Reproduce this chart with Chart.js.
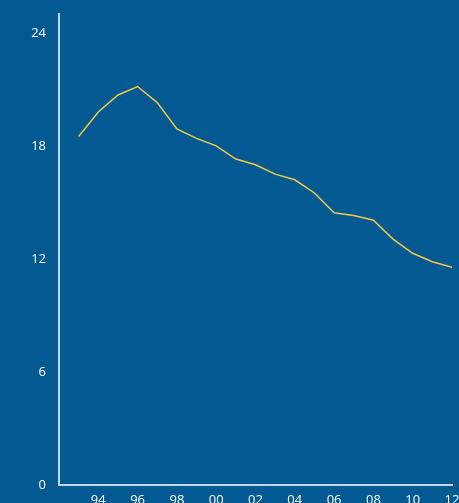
<!DOCTYPE html>
<html>
<head>
<meta charset="utf-8">
<script src="https://cdn.jsdelivr.net/npm/chart.js@4/dist/chart.umd.min.js"></script>
<style>
  html, body { margin: 0; padding: 0; background: #035a93; overflow: hidden; }
  #wrap { position: absolute; left: 0; top: 0; width: 470px; height: 515px; }
</style>
</head>
<body>
<div id="wrap"><canvas id="myChart"></canvas></div>
<script>
// years 1993 - 2012
const years = [1993, 1994, 1995, 1996, 1997, 1998, 1999, 2000, 2001, 2002,
               2003, 2004, 2005, 2006, 2007, 2008, 2009, 2010, 2011, 2012];
const values = [18.5, 19.8, 20.7, 21.15, 20.3, 18.9, 18.4, 18.0, 17.3, 17.0,
                16.5, 16.2, 15.5, 14.45, 14.3, 14.05, 13.05, 12.3, 11.85, 11.55];
const xTicks = [1994, 1996, 1998, 2000, 2002, 2004, 2006, 2008, 2010, 2012];
const yTicks = [0, 6, 12, 18, 24];

const axisColor = '#c3d4e6';
const textColor = '#ffffff';

const ctx = document.getElementById('myChart').getContext('2d');
const myChart = new Chart(ctx, {
    type: 'line',
    data: {
        datasets: [{
            data: years.map((y, i) => ({ x: y, y: values[i] })),
            borderColor: '#f4c944',
            borderWidth: 1.5,
            pointRadius: 0,
            tension: 0,
            fill: false
        }]
    },
    options: {
        responsive: true,
        maintainAspectRatio: false,
        animation: false,
        layout: { padding: { top: 14, right: 18, left: 0, bottom: 0 } },
        plugins: { legend: { display: false }, tooltip: { enabled: false } },
        scales: {
            x: {
                type: 'linear',
                min: 1992,
                max: 2012,
                afterBuildTicks: s => { s.ticks = xTicks.map(v => ({ value: v })); },
                afterFit: s => { s.height = 30; s.paddingLeft = 0; s.paddingRight = 0; },
                grid: { display: false, drawTicks: false },
                border: { color: axisColor, width: 2 },
                ticks: {
                    color: textColor,
                    padding: 7,
                    maxRotation: 0,
                    autoSkip: false,
                    font: { family: 'Open Sans', size: 13 },
                    callback: v => String(v % 100).padStart(2, '0')
                }
            },
            y: {
                min: 0,
                max: 25,
                afterBuildTicks: s => { s.ticks = yTicks.map(v => ({ value: v })); },
                afterFit: s => { s.width = 59; s.paddingTop = 0; s.paddingBottom = 0; },
                grid: { display: false, drawTicks: false },
                border: { color: axisColor, width: 2 },
                ticks: {
                    color: textColor,
                    padding: 13,
                    font: { family: 'Open Sans', size: 13 }
                }
            }
        }
    }
});
</script>
</body>
</html>
